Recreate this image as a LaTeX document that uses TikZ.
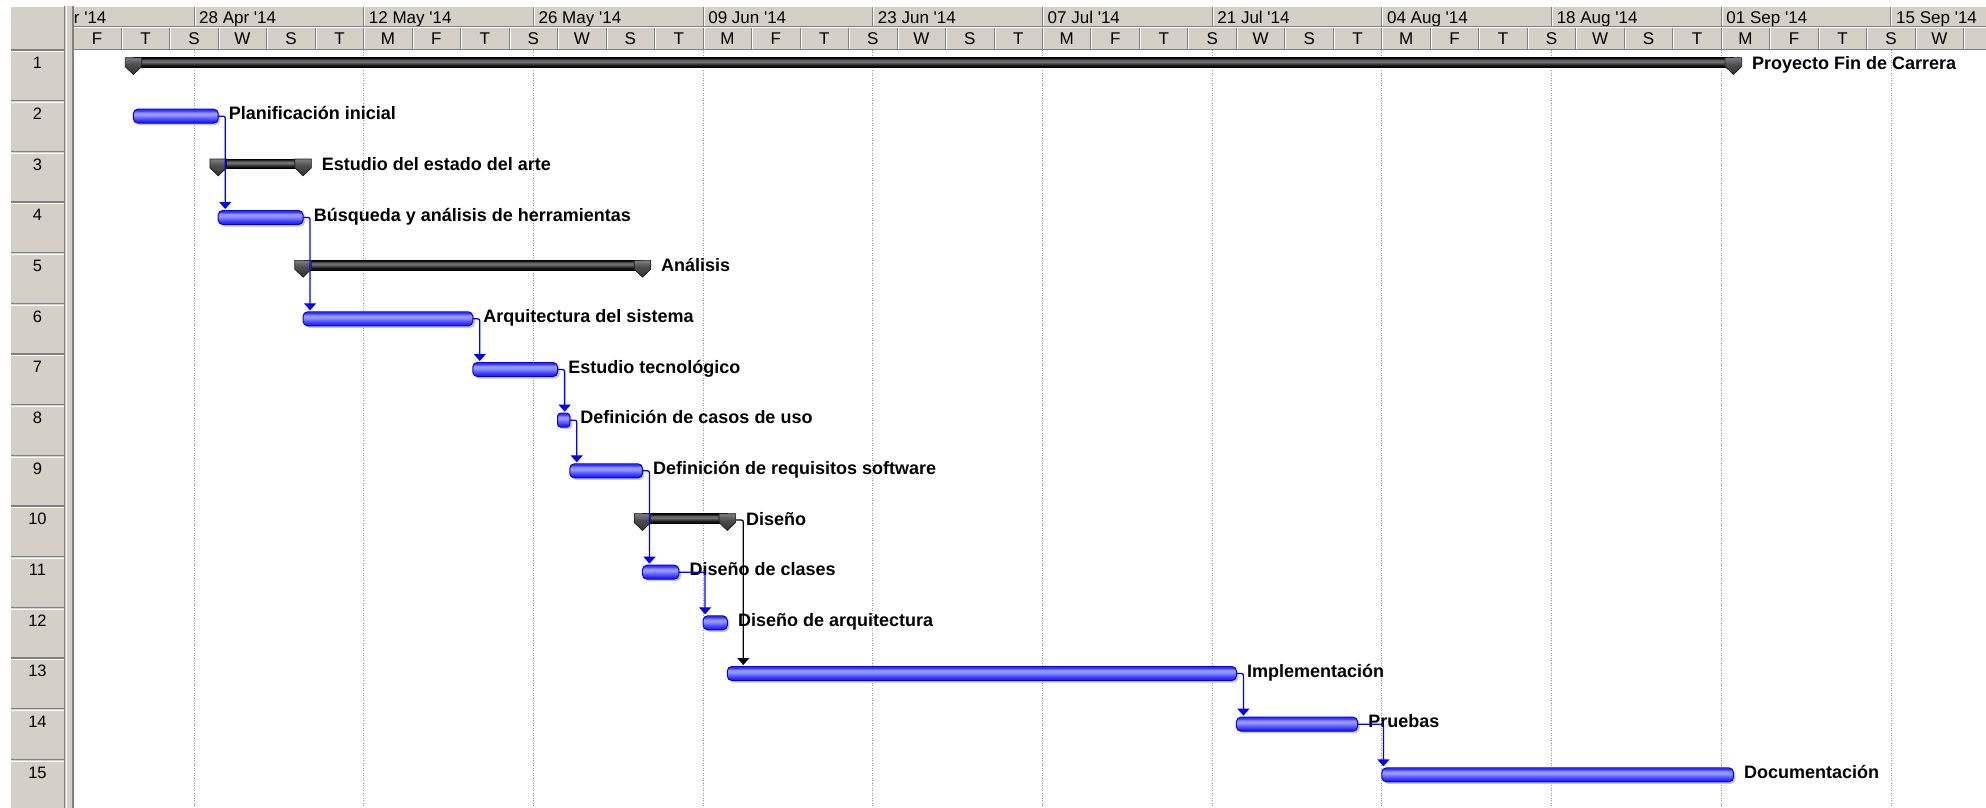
\documentclass[tikz,border=0pt]{standalone}
\usepackage{fontspec}
\setmainfont{Liberation Sans}
\usetikzlibrary{arrows.meta,shadows,calc}

\definecolor{panel}{RGB}{212,208,200}
\definecolor{paneledge}{RGB}{128,128,128}
\definecolor{gridgray}{RGB}{150,150,150}
\definecolor{taskedge}{RGB}{0,0,230}
\definecolor{taskdark}{RGB}{25,25,215}
\definecolor{taskblue}{RGB}{55,55,255}
\definecolor{tasklight}{RGB}{150,150,255}
\definecolor{linkblue}{RGB}{0,0,255}

% vertical shadings: the path spans 25bp (bottom) to 75bp (top)
\pgfdeclareverticalshading{taskshade}{100bp}{color(0bp)=(taskdark); color(25bp)=(taskdark); color(36bp)=(taskblue); color(54bp)=(tasklight); color(62bp)=(tasklight); color(70bp)=(taskblue); color(75bp)=(taskblue); color(100bp)=(taskblue)}
\pgfdeclareverticalshading{sumshade}{100bp}{color(0bp)=(black); color(25bp)=(black); color(36bp)=(black!90); color(54bp)=(black!55); color(62bp)=(black!60); color(70bp)=(black!85); color(75bp)=(black); color(100bp)=(black)}
\pgfdeclareverticalshading{capshade}{100bp}{color(0bp)=(black!80); color(25bp)=(black!80); color(55bp)=(black!70); color(75bp)=(black!50); color(100bp)=(black!50)}

\tikzset{
  taskbar/.style={draw=taskedge, line width=1pt, rounded corners=4.5pt,
    shading=taskshade, minimum height=14pt, inner sep=0pt, outer sep=0pt, anchor=west,
    drop shadow={shadow xshift=2pt, shadow yshift=-2pt, fill=black!22, opacity=1}},
  sumbar/.style={draw=black, line width=0.8pt, shading=sumshade,
    minimum height=9.5pt, inner sep=0pt, outer sep=0pt, anchor=west},
  capshape/.style={draw=black!90, line width=0.7pt, shading=capshade},
  sumcap/.pic={\path[capshape] (-8.3,-4.8) -- (8.3,-4.8) -- (8.3,4) -- (0,12) -- (-8.3,4) -- cycle;},
  link/.style={draw=linkblue, line width=1.3pt, rounded corners=2pt,
    -{Triangle[width=12pt,length=7pt]}},
  linkblack/.style={link, draw=black},
  tasklabel/.style={anchor=base west, inner sep=0pt, font=\fontsize{18}{21}\selectfont\bfseries},
  headtext/.style={inner sep=0pt, font=\fontsize{17}{20}\selectfont},
  rownum/.style={inner sep=0pt, anchor=base, font=\fontsize{16.5}{19}\selectfont},
  gridline/.style={draw=gridgray, line width=0.8pt, dash pattern=on 1pt off 1.5pt},
}

\begin{document}
\begin{tikzpicture}[x=1pt, y=-1pt]
\useasboundingbox (0,0) rectangle (1986,808);
\fill[white] (0,0) rectangle (1986,808);

% ---------- timescale header ----------
\fill[panel] (74,6) rectangle (1986,50);
\begin{scope}
  \clip (74,0) rectangle (1986,808);
  % weekly gridlines in the chart area
  \foreach \k in {0,...,10}
    \draw[gridline] ({194+169.697*\k},50) -- ({194+169.697*\k},808);
  % upper tier: two-week periods
  \foreach \lab [count=\k from 0] in {14 Apr,28 Apr,12 May,26 May,09 Jun,23 Jun,07 Jul,21 Jul,04 Aug,18 Aug,01 Sep,15 Sep} {
    \pgfmathsetmacro{\xx}{194+169.697*(\k-1)}
    \draw[paneledge, line width=1pt] (\xx,6) -- (\xx,27);
    \draw[white, line width=1pt] (\xx+1,6) -- (\xx+1,27);
    \node[headtext, anchor=base west] (wk\k) at (\xx+5,23.3) {\lab\ \textquotesingle14};
  }
  % lower tier: four-day units
  \foreach \lab [count=\j from 0] in {F,T,S,W,S,T,M,F,T,S,W,S,T,M,F,T,S,W,S,T,M,F,T,S,W,S,T,M,F,T,S,W,S,T,M,F,T,S,W} {
    \pgfmathsetmacro{\xx}{72.8+48.4848*\j}
    \draw[paneledge, line width=1pt] (\xx+48.4848,27) -- (\xx+48.4848,50);
    \draw[white, line width=1pt] (\xx+49.4848,28) -- (\xx+49.4848,50);
    \node[headtext, anchor=base] (dy\j) at (\xx+24.24,44.3) {\lab};
  }
  \draw[white, line width=1pt] (74,6.5) -- (1986,6.5);
  \draw[paneledge, line width=1pt] (74,27) -- (1986,27);
  \draw[white, line width=1pt] (74,28) -- (1986,28);
  \draw[paneledge, line width=1pt] (74,49.5) -- (1986,49.5);
\end{scope}

% ---------- row number column ----------
\fill[panel] (11,6) rectangle (74,808);
\draw[white, line width=1pt] (11,6.5) -- (64,6.5);
\foreach \k in {0,...,15} {
  \draw[paneledge, line width=1.5pt] (11,{50+50.667*\k}) -- (64,{50+50.667*\k});
  \draw[white, line width=1pt] (11,{51.8+50.667*\k}) -- (64,{51.8+50.667*\k});
}
\foreach \i in {1,...,15}
  \node[rownum] (n\i) at (37.5,{68.8+50.667*(\i-1)}) {\i};
\draw[paneledge, line width=0.8pt] (64.5,6) -- (64.5,808);
\draw[white, line width=1pt] (66.5,6) -- (66.5,808);
\draw[paneledge, line width=1.2pt] (73,6) -- (73,808);

% ---------- summary bars ----------
\node[sumbar, minimum width=1600pt] (s1) at (133.4,62.5) {};
\node[sumbar, minimum width=84.85pt] (s3) at (218.24,163.83) {};
\node[sumbar, minimum width=339.39pt] (s5) at (303.09,265.17) {};
\node[sumbar, minimum width=84.84pt] (s10) at (642.48,518.5) {};
\foreach \s in {s1,s3,s5,s10} {
  \pic at (\s.west) {sumcap};
  \pic at (\s.east) {sumcap};
}

% ---------- task bars ----------
\node[taskbar, minimum width=84.84pt] (t2) at (133.4,116.17) {};
\node[taskbar, minimum width=84.85pt] (t4) at (218.24,217.5) {};
\node[taskbar, minimum width=169.69pt] (t6) at (303.09,318.83) {};
\node[taskbar, minimum width=84.85pt] (t7) at (472.78,369.5) {};
\node[taskbar, minimum width=12.12pt, rounded corners=3pt] (t8) at (557.63,420.17) {};
\node[taskbar, minimum width=72.73pt] (t9) at (569.75,470.83) {};
\node[taskbar, minimum width=36.36pt] (t11) at (642.48,572.17) {};
\node[taskbar, minimum width=24.24pt] (t12) at (703.08,622.83) {};
\node[taskbar, minimum width=509.08pt] (t13) at (727.32,673.5) {};
\node[taskbar, minimum width=121.2pt] (t14) at (1236.4,724.17) {};
\node[taskbar, minimum width=351.5pt] (t15) at (1381.9,774.83) {};

% ---------- labels ----------
\node[tasklabel] (l1) at ($(s1.east)+(18.5,6.8)$) {Proyecto Fin de Carrera};
\node[tasklabel] (l2) at ($(t2.east)+(10.5,3.8)$) {Planificación inicial};
\node[tasklabel] (l3) at ($(s3.east)+(18.5,6.8)$) {Estudio del estado del arte};
\node[tasklabel] (l4) at ($(t4.east)+(10.5,3.8)$) {Búsqueda y análisis de herramientas};
\node[tasklabel] (l5) at ($(s5.east)+(18.5,6.8)$) {Análisis};
\node[tasklabel] (l6) at ($(t6.east)+(10.5,3.8)$) {Arquitectura del sistema};
\node[tasklabel] (l7) at ($(t7.east)+(10.5,3.8)$) {Estudio tecnológico};
\node[tasklabel] (l8) at ($(t8.east)+(10.5,3.8)$) {Definición de casos de uso};
\node[tasklabel] (l9) at ($(t9.east)+(10.5,3.8)$) {Definición de requisitos software};
\node[tasklabel] (l10) at ($(s10.east)+(18.5,6.8)$) {Diseño};
\node[tasklabel] (l11) at ($(t11.east)+(10.5,3.8)$) {Diseño de clases};
\node[tasklabel] (l12) at ($(t12.east)+(10.5,3.8)$) {Diseño de arquitectura};
\node[tasklabel] (l13) at ($(t13.east)+(10.5,3.8)$) {Implementación};
\node[tasklabel] (l14) at ($(t14.east)+(10.5,3.8)$) {Pruebas};
\node[tasklabel] (l15) at ($(t15.east)+(10.5,3.8)$) {Documentación};

% ---------- finish-to-start links ----------
\draw[link] (t2.east) -| ($(t2.east |- t4.north)+(7,-1.5)$);
\draw[link] (t4.east) -| ($(t4.east |- t6.north)+(7,-1.5)$);
\draw[link] (t6.east) -| ($(t6.east |- t7.north)+(7,-1.5)$);
\draw[link] (t7.east) -| ($(t7.east |- t8.north)+(7,-1.5)$);
\draw[link] (t8.east) -| ($(t8.east |- t9.north)+(7,-1.5)$);
\draw[link] (t9.east) -| ($(t9.east |- t11.north)+(7,-1.5)$);
\draw[link] (t11.east) -| ($(t12.north west)+(2,-1.5)$);
\draw[linkblack] ($(s10.east)+(8.3,1.5)$) -| ($(s10.east |- t13.north)+(16,-1.5)$);
\draw[link] (t13.east) -| ($(t13.east |- t14.north)+(7,-1.5)$);
\draw[link] (t14.east) -| ($(t15.north west)+(1.5,-1.5)$);
\end{tikzpicture}
\end{document}
